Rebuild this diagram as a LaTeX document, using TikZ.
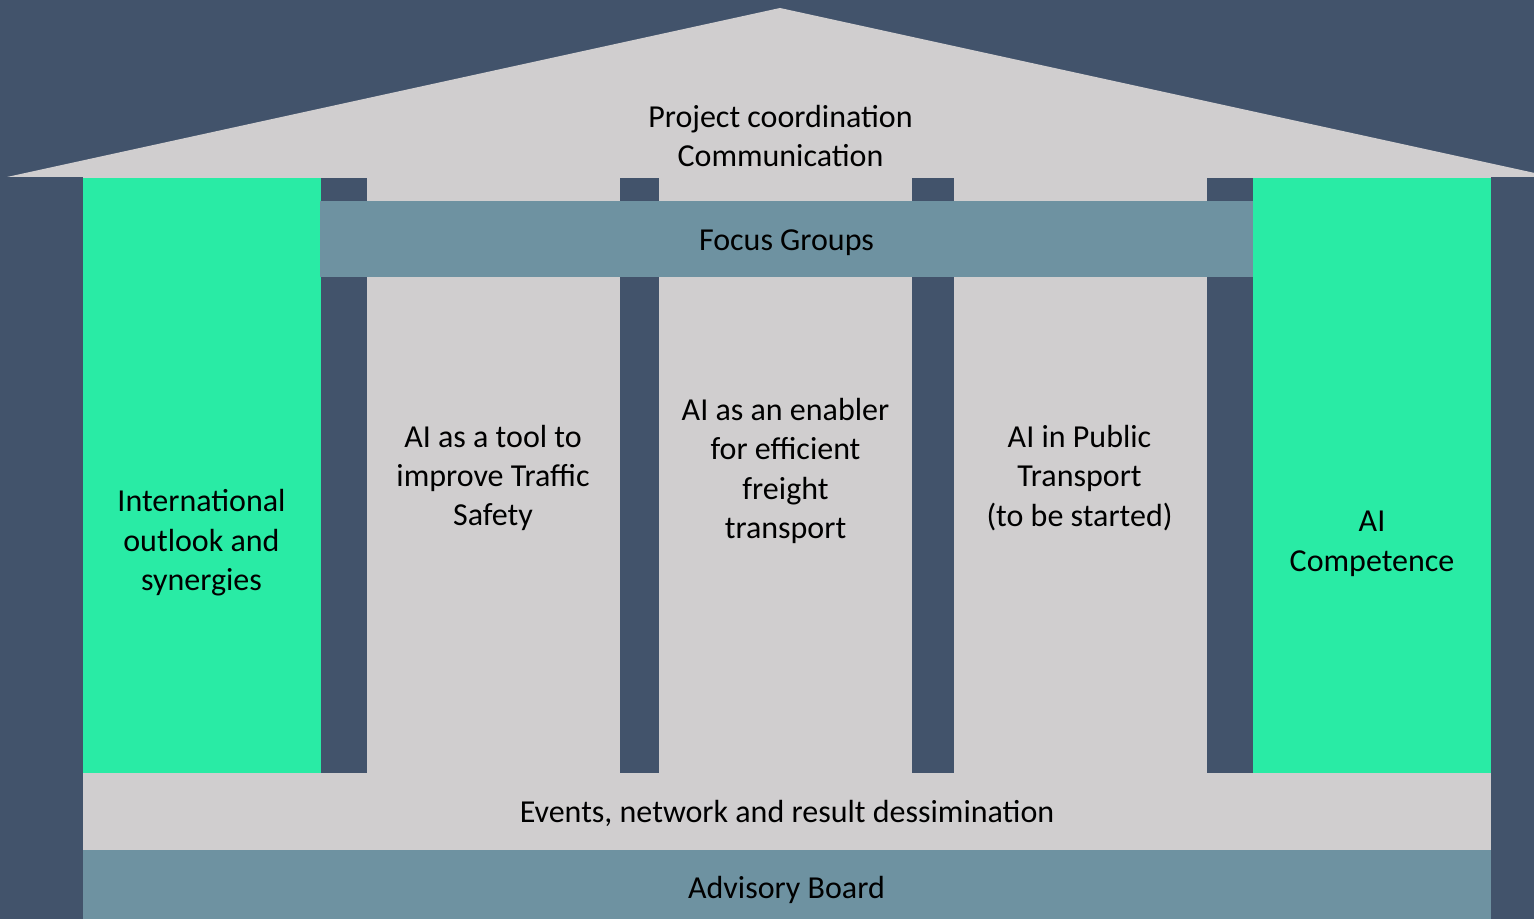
\documentclass[tikz,border=0pt]{standalone}
\usepackage{fontspec}
\setmainfont{Carlito}
\usetikzlibrary{positioning}
\definecolor{housedark}{RGB}{66,83,107}
\definecolor{wallgrey}{RGB}{208,206,207}
\definecolor{pillargreen}{RGB}{41,235,165}
\definecolor{beamblue}{RGB}{110,146,161}
\tikzset{
    background/.style={fill=housedark},
    wall/.style={fill=wallgrey},
    pillar/.style={fill=pillargreen},
    post/.style={fill=housedark},
    beam/.style={fill=beamblue},
    house text/.style={align=center,text=black,inner sep=0pt,outer sep=0pt},
}
\tikzstyle{every node}=[font=\fontsize{9.1}{11.2}\selectfont]

\begin{document}
\begin{tikzpicture}[x=0.01cm,y=-0.01cm]
        \useasboundingbox (0,0) rectangle (1534,919);
        \fill[background] (0,0) rectangle (1534,919);
        % roof and wall
        \coordinate (roof left) at (7,177);
        \coordinate (roof top) at (780,8);
        \coordinate (roof right) at (1553,177);
        \fill[wall] (roof left) -- (roof top) -- (roof right) -- cycle;
        \fill[wall] (83,177) rectangle (1491,850);
        % pillars
        \fill[pillar] (83,178) rectangle (321,773);
        \fill[pillar] (1253,178) rectangle (1491,773);
        \fill[post] (321,178) rectangle (367,773);
        \fill[post] (620,178) rectangle (659,773);
        \fill[post] (912,178) rectangle (954,773);
        \fill[post] (1207,178) rectangle (1253,773);
        % beams
        \fill[beam] (320,201) rectangle (1253,277);
        \fill[beam] (83,850) rectangle (1491,919);

        \node[house text] (coordination) at (780.5,136) {Project coordination\\Communication};
        \node[house text] (focus) at (786.5,243) {Focus Groups};
        \node[house text] (international) at (201.5,543) {International\\outlook and\\synergies};
        \node[house text] (safety) at (493,478) {AI as a tool to\\improve Traffic\\Safety};
        \node[house text] (freight) at (785.5,471) {AI as an enabler\\for efficient\\freight\\transport};
        \node[house text] (public) at (1079.5,478) {AI in Public\\Transport\\(to be started)};
        \node[house text] (competence) at (1372,544) {AI\\Competence};
        \node[house text] (events) at (787,813) {Events, network and result dessimination};
        \node[house text] (advisory) at (786.5,890) {Advisory Board};
    \end{tikzpicture}
\end{document}
